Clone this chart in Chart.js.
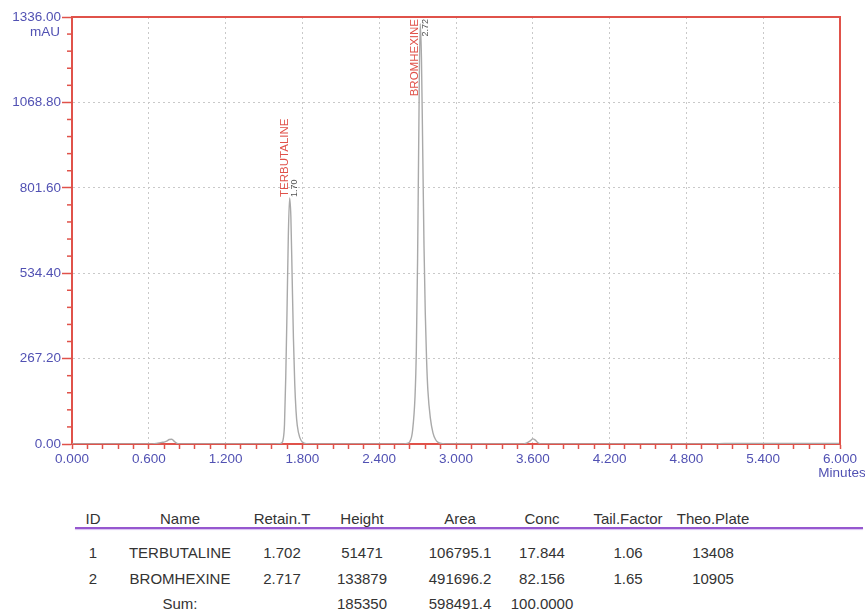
<!DOCTYPE html>
<html>
<head>
<meta charset="utf-8">
<script src="https://cdn.jsdelivr.net/npm/chart.js@4.4.1/dist/chart.umd.min.js"></script>
<style>
  body { margin: 0; background: #fff; font-family: "Liberation Sans", Arial, sans-serif; }
  #wrap { position: relative; width: 865px; height: 613px; }
  #chrom { position: absolute; left: 0; top: 0; }
  .cell { position: absolute; transform: translate(-50%, -50%); font-size: 15px; color: #333; white-space: nowrap; }
  #rule { position: absolute; left: 75px; top: 527px; width: 788px; height: 2px; background: #9657cf; box-shadow: 0 1px 1px #d6bff0; }
</style>
</head>
<body>
<div id="wrap">
  <canvas id="chrom" width="865" height="480"></canvas>
  <div id="rule"></div>
</div>
<script>
// Chromatogram trace (minutes, mAU)
const times = [0, 0.60, 0.66, 0.70, 0.72, 0.74, 0.76, 0.78, 0.80, 0.82, 0.86,
  1.55, 1.62, 1.64, 1.65, 1.66, 1.67, 1.68, 1.69, 1.70, 1.71, 1.72, 1.73, 1.74, 1.75, 1.76, 1.78, 1.80, 1.83, 1.90,
  2.55, 2.62, 2.64, 2.66, 2.68, 2.69, 2.70, 2.71, 2.72, 2.73, 2.74, 2.75, 2.76, 2.77, 2.78, 2.80, 2.82, 2.84, 2.86, 2.90, 3.00,
  3.50, 3.55, 3.58, 3.60, 3.62, 3.64, 3.68, 5.00, 5.10, 6.00];
const absorbance = [0, 0, 2, 5, 6, 9, 14, 15, 8, 2, 0,
  0, 1, 4, 15, 60, 210, 420, 650, 770, 710, 520, 330, 190, 105, 58, 20, 6, 1, 0,
  0, 2, 8, 40, 150, 290, 580, 1000, 1315, 1210, 920, 620, 410, 265, 170, 80, 35, 14, 5, 1, 0,
  0, 3, 10, 16, 12, 4, 0, 0, 2, 2];

// Peak annotations
const peakNames = ['TERBUTALINE', 'BROMHEXINE'];
const peakTimes = [1.70, 2.72];

// Axis ticks
const yMax = 1336;
const yMajor = 267.2;
const yMinor = 53.44;
const xMax = 6;
const xMajor = 0.6;
const xMinor = 0.12;

// Result table
const tableHeaders = ['ID', 'Name', 'Retain.T', 'Height', 'Area', 'Conc', 'Tail.Factor', 'Theo.Plate'];
const tableIds = ['1', '2'];
const tableNames = ['TERBUTALINE', 'BROMHEXINE'];
const retainTimes = ['1.702', '2.717'];
const heights = ['51471', '133879'];
const areas = ['106795.1', '491696.2'];
const concs = ['17.844', '82.156'];
const tailFactors = ['1.06', '1.65'];
const theoPlates = ['13408', '10905'];
const sumRow = ['', 'Sum:', '', '185350', '598491.4', '100.0000', '', ''];

const RED = '#e0524a';
const BLUE = '#5151b3';
const FONT = '"Liberation Sans", Arial, sans-serif';
const isMajor = (v, step) => Math.abs(v / step - Math.round(v / step)) < 1e-6;

// table layout
const colX = [93, 180, 282, 362, 460, 542, 628, 713];
const rowY = [518, 552, 578, 603];
const wrap = document.getElementById('wrap');
function cell(text, x, y) {
  if (!text) return;
  const d = document.createElement('div');
  d.className = 'cell';
  d.style.left = x + 'px';
  d.style.top = y + 'px';
  d.textContent = text;
  wrap.appendChild(d);
}
tableHeaders.forEach((h, i) => cell(h, colX[i], rowY[0]));
tableIds.forEach((id, r) => {
  const row = [id, tableNames[r], retainTimes[r], heights[r], areas[r], concs[r], tailFactors[r], theoPlates[r]];
  row.forEach((t, i) => cell(t, colX[i], rowY[r + 1]));
});
sumRow.forEach((t, i) => cell(t, colX[i], rowY[3]));

// frame, minor y ticks, axis titles, peak labels
const chromPlugin = {
  id: 'chromPlugin',
  afterDraw(chart) {
    const { ctx, chartArea: a, scales } = chart;
    ctx.save();
    ctx.strokeStyle = RED;
    ctx.lineWidth = 2;
    ctx.beginPath();
    ctx.moveTo(a.left, a.top);
    ctx.lineTo(a.right, a.top);
    ctx.lineTo(a.right, a.bottom);
    ctx.stroke();

    // short minor ticks on y
    ctx.lineWidth = 1.5;
    scales.y.ticks.forEach(t => {
      if (isMajor(t.value, yMajor)) return;
      const py = scales.y.getPixelForValue(t.value);
      ctx.beginPath();
      ctx.moveTo(a.left - 5, py);
      ctx.lineTo(a.left, py);
      ctx.stroke();
    });

    ctx.fillStyle = BLUE;
    ctx.font = '13.5px ' + FONT;
    ctx.textAlign = 'right';
    ctx.textBaseline = 'middle';
    ctx.fillText('mAU', a.left - 12, a.top + 15);
    ctx.textAlign = 'center';
    ctx.fillText('Minutes', a.right + 2, a.bottom + 29);

    // peak labels
    peakNames.forEach((name, i) => {
      let apex = 0;
      times.forEach((t, k) => { if (Math.abs(t - peakTimes[i]) < 0.05) apex = Math.max(apex, absorbance[k]); });
      const px = scales.x.getPixelForValue(peakTimes[i]);
      const py = scales.y.getPixelForValue(apex);
      ctx.font = '11.5px ' + FONT;
      const len = ctx.measureText(name).width;
      const clamp = py - 1 - len < a.top + 2;
      const anchor = clamp ? a.top + 2 : py - 1;
      const items = [[name, px - 5, RED, '11.5px'], [peakTimes[i].toFixed(2), px + 5, '#555', '9px']];
      items.forEach(([txt, x, col, size]) => {
        ctx.save();
        ctx.translate(x, anchor);
        ctx.rotate(-Math.PI / 2);
        ctx.font = size + ' ' + FONT;
        ctx.fillStyle = col;
        ctx.textAlign = clamp ? 'right' : 'left';
        ctx.textBaseline = 'middle';
        ctx.fillText(txt, 0, 0);
        ctx.restore();
      });
    });
    ctx.restore();
  }
};

new Chart(document.getElementById('chrom'), {
  type: 'scatter',
  data: {
    datasets: [{
      data: times.map((t, i) => ({ x: t, y: absorbance[i] })),
      showLine: true,
      borderColor: '#a9a9a9',
      borderWidth: 1.4,
      pointRadius: 0,
      cubicInterpolationMode: 'monotone'
    }]
  },
  options: {
    responsive: false,
    animation: false,
    devicePixelRatio: 1,
    layout: { padding: { top: 17, right: 25, left: 0, bottom: 0 } },
    plugins: { legend: { display: false }, tooltip: { enabled: false } },
    scales: {
      x: {
        type: 'linear',
        min: 0,
        max: xMax,
        afterFit: s => { s.height = 36; },
        border: { color: RED, width: 2, dash: [2, 3] },
        grid: {
          color: c => (c.tick && isMajor(c.tick.value, xMajor) && c.tick.value > 0 && c.tick.value < xMax) ? '#c9c9c9' : 'transparent',
          tickColor: RED,
          tickLength: 5,
          tickWidth: 1.5
        },
        ticks: {
          stepSize: xMinor,
          autoSkip: false,
          maxRotation: 0,
          padding: 2,
          color: BLUE,
          font: { size: 13.5, family: FONT },
          callback: v => isMajor(v, xMajor) ? v.toFixed(3) : ''
        }
      },
      y: {
        min: 0,
        max: yMax,
        afterFit: s => { s.width = 72; },
        border: { color: RED, width: 2, dash: [2, 3] },
        grid: {
          color: c => (c.tick && isMajor(c.tick.value, yMajor) && c.tick.value > 0 && c.tick.value < yMax) ? '#c9c9c9' : 'transparent',
          tickColor: c => (c.tick && isMajor(c.tick.value, yMajor)) ? RED : 'transparent',
          tickLength: 10,
          tickWidth: 1.5
        },
        ticks: {
          stepSize: yMinor,
          autoSkip: false,
          padding: 1,
          color: BLUE,
          font: { size: 13.5, family: FONT },
          callback: v => isMajor(v, yMajor) ? v.toFixed(2) : ''
        }
      }
    }
  },
  plugins: [chromPlugin]
});
</script>
</body>
</html>
